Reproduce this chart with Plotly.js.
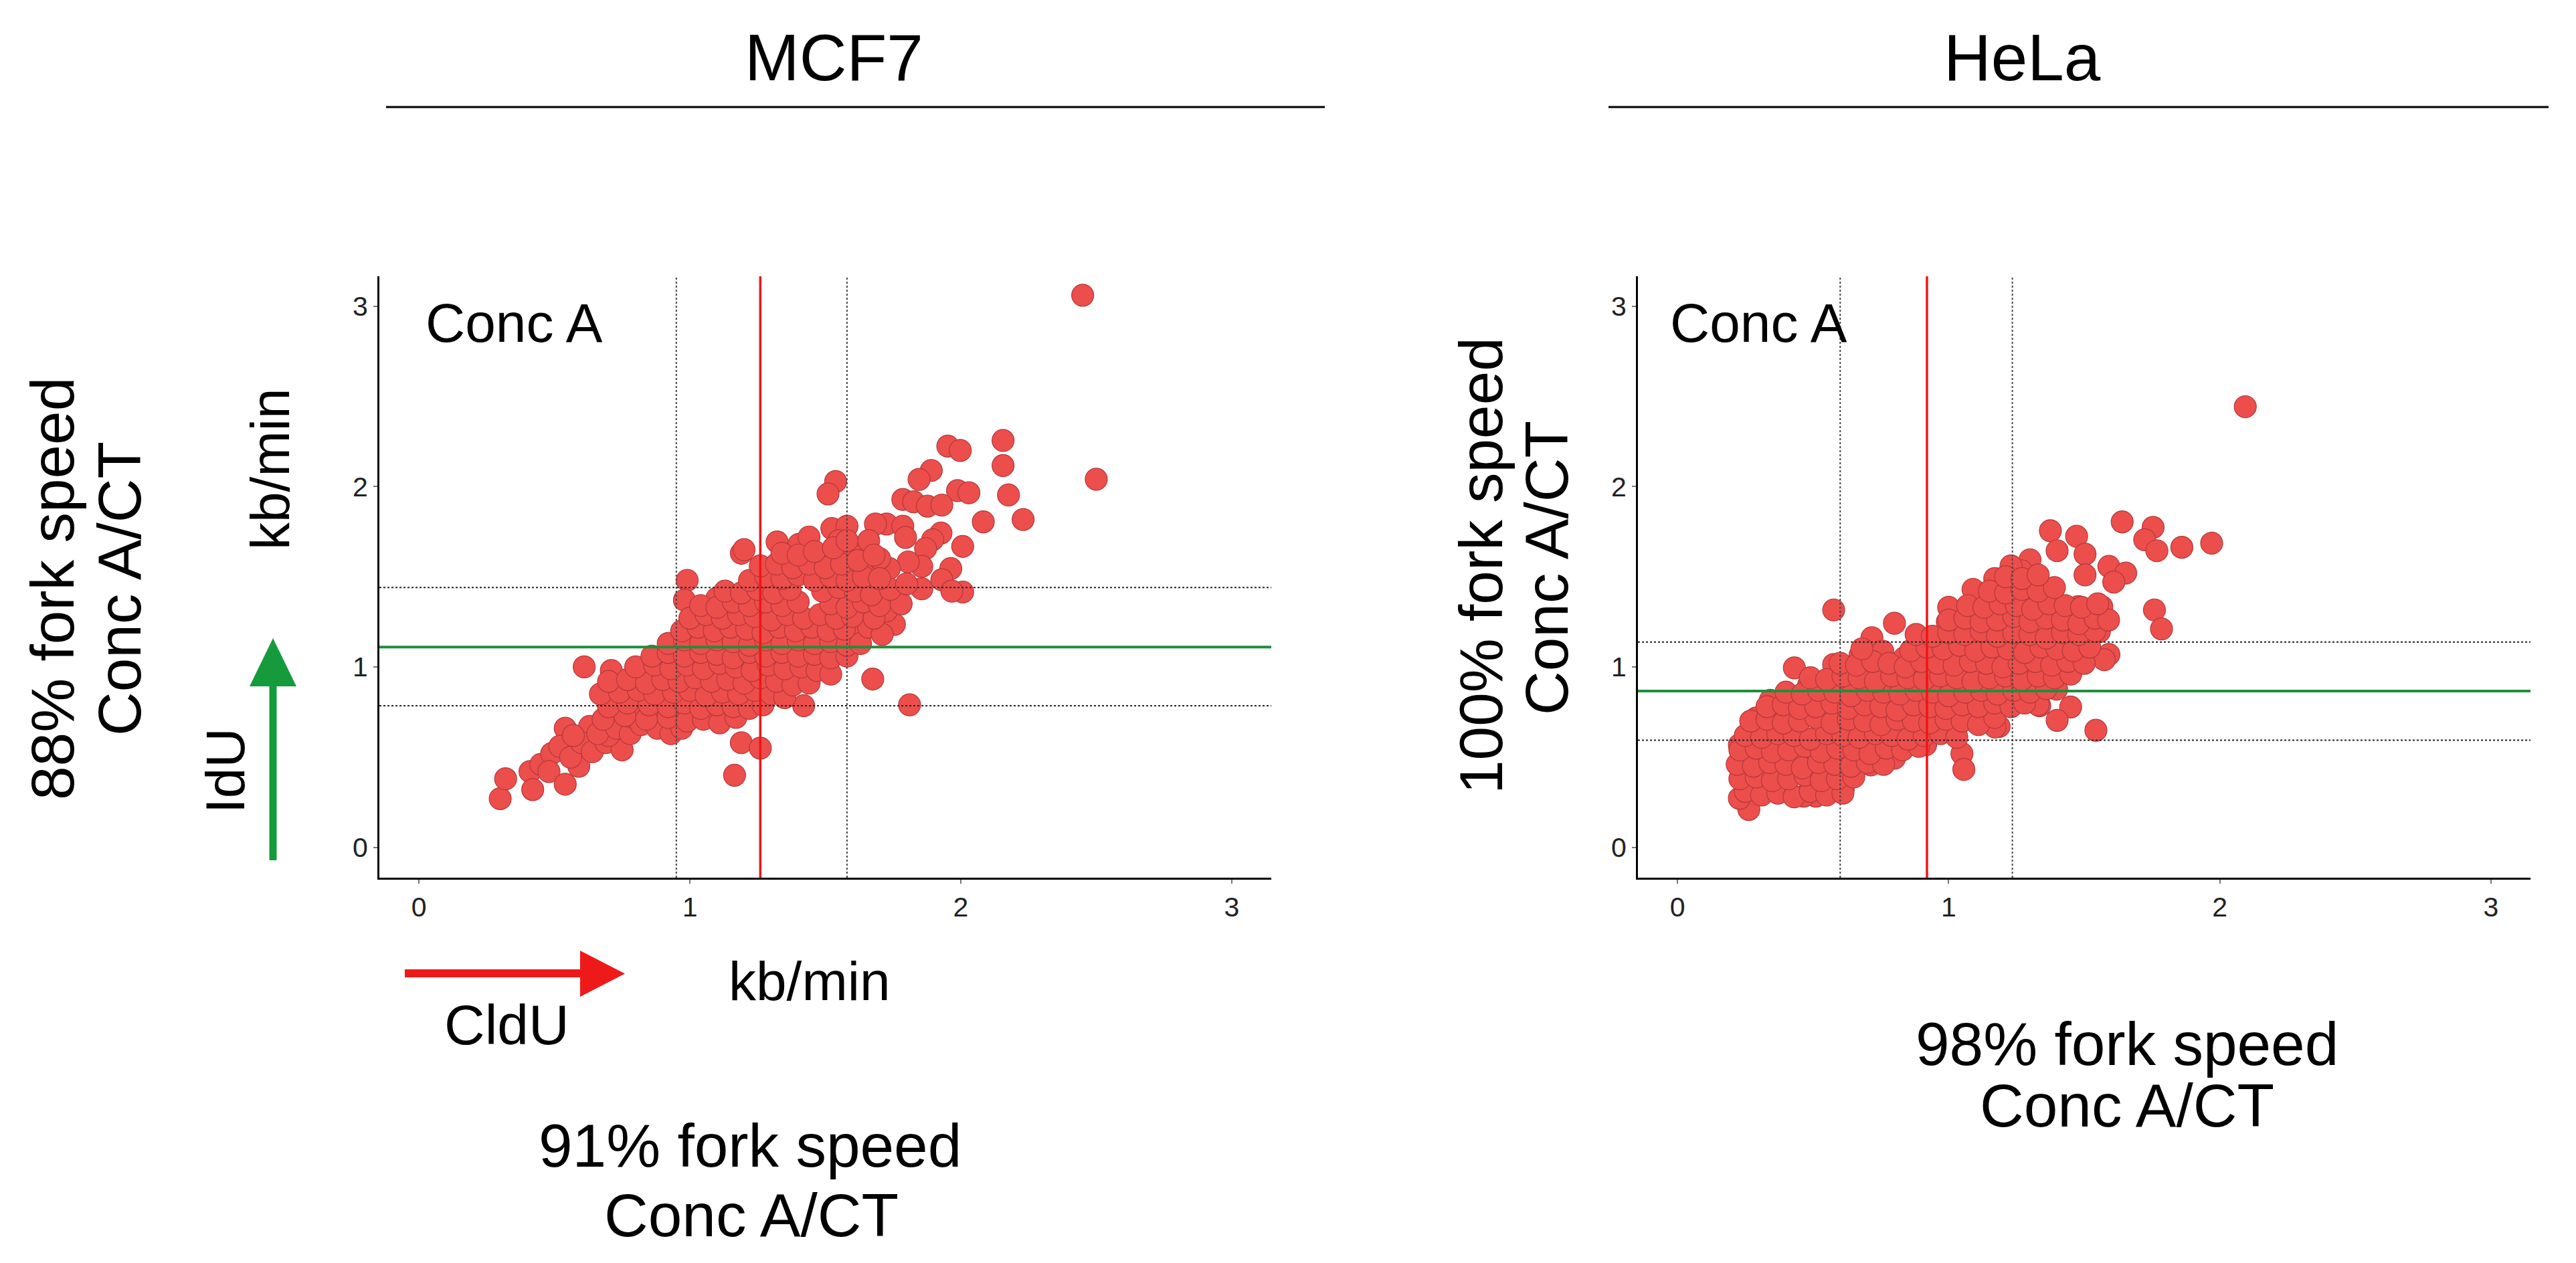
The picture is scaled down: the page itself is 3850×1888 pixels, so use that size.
<!DOCTYPE html>
<html>
<head>
<meta charset="utf-8">
<script src="https://cdn.plot.ly/plotly-3.0.1.min.js"></script>
<style>html,body{margin:0;padding:0;background:#fff;}#chart{width:3850px;height:1888px;}</style>
</head>
<body>
<div id="chart"></div>
<script>
// ---------------- DATA ----------------
const panelTitles = ['MCF7', 'HeLa'];
const tickValues = [0, 1, 2, 3];
const tickLabels = ['0', '1', '2', '3'];

// MCF7: CldU (x, kb/min) vs IdU (y, kb/min)
const mcf7X = [
  0.30,0.32,0.41,0.42,0.45,0.49,0.48,0.54,0.54,0.63,
  0.59,0.52,0.56,0.60,0.64,0.69,0.75,0.70,0.66,0.57,
  0.73,0.78,0.61,0.71,0.73,0.71,0.79,0.83,0.86,0.90,
  0.91,0.945,0.99,0.98,1.10,1.19,1.19,1.26,1.165,1.42,
  0.79,0.82,0.68,2.45,2.50,2.156,2.156,2.176,2.23,2.083,
  1.952,1.998,1.891,1.846,1.988,2.03,1.786,1.826,1.877,1.93,
  2.007,1.927,1.896,1.87,1.963,1.93,2.007,1.967,1.856,1.856,
  1.806,1.726,1.786,1.796,1.685,1.538,1.51,1.524,1.58,1.20,
  1.322,1.403,1.484,1.625,1.645,1.736,1.755,1.755,1.725,1.625,
  1.675,1.811,1.28,1.44,1.60,1.66,1.55,1.70,
  0.88,0.93,0.97,
  0.76,0.84,0.92,0.99,1.05,1.11,1.17,
  0.70,0.77,0.85,0.92,0.98,1.04,1.10,1.16,1.22,1.27,
  0.67,0.74,0.81,0.87,0.94,1.00,1.06,1.12,1.18,1.24,1.30,1.35,
  0.70,0.77,0.84,0.90,0.96,1.02,1.08,1.14,1.20,1.26,1.32,1.38,1.44,
  0.80,0.87,0.93,0.99,1.05,1.11,1.17,1.23,1.29,1.35,1.41,1.47,1.52,
  0.86,0.92,0.98,1.04,1.10,1.16,1.22,1.28,1.34,1.40,1.46,1.52,1.58,
  0.92,0.98,1.04,1.10,1.16,1.22,1.28,1.34,1.40,1.46,1.52,1.58,1.63,
  0.97,1.03,1.09,1.15,1.21,1.27,1.33,1.39,1.45,1.51,1.57,1.66,1.71,
  1.00,1.06,1.12,1.18,1.24,1.30,1.36,1.42,1.48,1.54,1.60,1.68,
  1.04,1.10,1.16,1.22,1.28,1.34,1.40,1.52,1.58,1.64,1.70,1.78,
  1.13,1.19,1.25,1.31,1.37,1.49,1.55,1.61,1.67,1.74,1.80,
  1.22,1.28,1.34,1.40,1.46,1.52,1.58,1.64,1.70,
  1.26,1.32,1.38,1.44,1.50,1.56,1.62,1.68,
  1.34,1.40,1.46,1.53,1.58
];
const mcf7Y = [
  0.27,0.38,0.42,0.32,0.46,0.52,0.42,0.35,0.66,0.67,
  0.45,0.56,0.50,0.58,0.53,0.58,0.54,0.62,0.63,0.62,
  0.66,0.63,1.00,0.98,0.87,0.80,0.80,0.96,0.74,0.67,
  0.94,0.655,1.48,1.37,1.38,1.63,0.58,0.55,0.40,0.785,
  0.72,0.68,0.71,3.06,2.04,2.255,2.116,1.953,1.817,1.804,
  2.224,2.20,2.089,2.039,1.977,1.965,1.928,1.915,1.891,1.897,
  1.668,1.742,1.705,1.656,1.545,1.483,1.415,1.42,1.433,1.557,
  1.582,1.792,1.78,1.718,1.792,2.027,1.959,1.767,1.78,1.65,
  1.693,1.68,1.607,1.656,1.557,1.545,1.384,1.236,1.31,1.223,
  0.933,0.79,1.46,1.72,1.62,1.70,1.70,1.60,
  0.66,0.63,0.66,
  0.73,0.71,0.72,0.70,0.71,0.69,0.72,
  0.78,0.80,0.79,0.78,0.80,0.77,0.79,0.78,0.77,0.79,
  0.85,0.86,0.87,0.85,0.86,0.87,0.84,0.86,0.85,0.87,0.85,0.83,
  0.92,0.93,0.91,0.93,0.92,0.94,0.92,0.93,0.91,0.94,0.92,0.90,0.91,
  1.00,1.01,0.99,1.01,0.99,1.02,1.00,0.98,1.01,0.99,1.00,0.98,0.96,
  1.06,1.08,1.06,1.08,1.07,1.05,1.08,1.06,1.08,1.06,1.07,1.05,1.06,
  1.13,1.15,1.13,1.15,1.14,1.12,1.15,1.13,1.15,1.13,1.14,1.12,1.13,
  1.20,1.22,1.20,1.22,1.21,1.19,1.22,1.20,1.22,1.20,1.21,1.22,1.18,
  1.27,1.29,1.27,1.29,1.28,1.26,1.29,1.27,1.29,1.27,1.28,1.27,
  1.34,1.33,1.36,1.34,1.36,1.34,1.36,1.35,1.33,1.36,1.34,1.35,
  1.42,1.41,1.43,1.41,1.43,1.42,1.44,1.42,1.40,1.43,1.46,
  1.48,1.50,1.49,1.51,1.48,1.50,1.48,1.50,1.49,
  1.56,1.57,1.55,1.57,1.55,1.57,1.59,1.62,
  1.63,1.62,1.64,1.66,1.70
];

// HeLa
const helaX = [
  2.094,1.64,1.754,1.723,1.768,1.86,1.97,1.375,1.40,1.472,
  1.503,1.30,1.269,1.591,1.653,1.609,1.503,1.565,1.759,1.785,
  1.556,1.591,1.574,1.45,1.40,1.543,1.336,1.398,1.186,1.38,
  1.478,1.30,0.576,0.80,0.431,0.576,0.717,0.673,0.757,0.836,
  0.906,0.995,1.083,1.163,1.277,1.049,1.056,0.915,0.80,0.713,
  0.611,0.51,0.466,0.395,0.263,0.228,0.245,0.28,0.228,0.29,
  0.342,0.484,0.342,0.45,1.23,1.17,1.09,1.00,1.171,1.33,
  0.25,0.31,0.37,0.43,0.49,0.55,0.61,
  0.23,0.29,0.35,0.41,0.47,0.53,0.59,0.65,
  0.22,0.28,0.34,0.40,0.46,0.52,0.58,0.64,0.70,0.76,
  0.23,0.29,0.35,0.41,0.47,0.53,0.59,0.65,0.71,0.77,0.83,0.89,
  0.25,0.31,0.37,0.43,0.49,0.55,0.61,0.67,0.73,0.79,0.85,0.91,0.97,1.03,
  0.27,0.33,0.39,0.45,0.51,0.57,0.63,0.69,0.75,0.81,0.87,0.93,0.99,1.05,1.11,1.17,
  0.33,0.39,0.45,0.51,0.57,0.63,0.69,0.75,0.81,0.87,0.93,0.99,1.05,1.11,1.17,1.23,1.28,
  0.40,0.46,0.52,0.58,0.64,0.70,0.76,0.82,0.88,0.94,1.00,1.06,1.12,1.18,1.24,1.30,1.36,
  0.49,0.55,0.61,0.67,0.73,0.79,0.85,0.91,0.97,1.03,1.09,1.15,1.21,1.27,1.33,1.39,1.45,
  0.60,0.66,0.72,0.78,0.84,0.90,0.96,1.02,1.08,1.14,1.20,1.26,1.32,1.38,1.44,1.50,
  0.68,0.86,0.92,0.98,1.04,1.10,1.16,1.22,1.28,1.34,1.40,1.46,1.52,
  0.88,0.94,1.00,1.06,1.12,1.18,1.24,1.30,1.36,1.42,1.48,1.54,
  1.00,1.06,1.12,1.18,1.24,1.30,1.36,1.42,1.48,1.54,1.59,
  1.07,1.13,1.19,1.25,1.31,1.37,1.43,1.49,1.55,
  1.15,1.21,1.27,1.33,1.39,
  1.21,1.27,1.33
];
const helaY = [
  2.442,1.804,1.773,1.705,1.644,1.663,1.686,1.755,1.644,1.724,
  1.625,1.594,1.532,1.557,1.52,1.47,1.51,1.334,1.316,1.211,
  1.196,1.069,1.04,0.778,0.704,0.649,0.785,0.877,0.67,1.384,
  1.334,1.43,1.316,1.242,0.995,1.013,1.162,1.063,1.087,1.05,
  1.137,1.25,1.31,1.38,1.36,0.519,0.432,0.568,0.494,0.457,
  0.321,0.284,0.284,0.321,0.21,0.272,0.36,0.42,0.568,0.717,
  0.815,0.902,0.494,0.457,1.56,1.49,1.43,1.33,0.667,0.79,
  0.31,0.29,0.30,0.28,0.31,0.29,0.30,
  0.38,0.39,0.37,0.38,0.40,0.37,0.38,0.39,
  0.46,0.45,0.47,0.46,0.44,0.47,0.46,0.45,0.47,0.46,
  0.54,0.55,0.53,0.54,0.56,0.53,0.55,0.54,0.52,0.55,0.54,0.56,
  0.62,0.61,0.63,0.62,0.60,0.63,0.62,0.61,0.63,0.62,0.60,0.62,0.63,0.61,
  0.70,0.71,0.69,0.70,0.72,0.69,0.71,0.70,0.68,0.71,0.70,0.69,0.71,0.70,0.68,0.72,
  0.78,0.79,0.77,0.78,0.80,0.77,0.79,0.78,0.76,0.79,0.78,0.77,0.79,0.78,0.80,0.78,0.80,
  0.86,0.85,0.87,0.86,0.84,0.87,0.86,0.85,0.87,0.86,0.84,0.86,0.87,0.85,0.87,0.86,0.88,
  0.94,0.93,0.95,0.94,0.92,0.95,0.94,0.93,0.95,0.94,0.92,0.94,0.95,0.93,0.95,0.94,0.96,
  1.02,1.01,1.03,1.02,1.00,1.03,1.02,1.01,1.03,1.02,1.00,1.02,1.03,1.01,1.03,1.02,
  1.10,1.09,1.11,1.10,1.12,1.09,1.11,1.10,1.08,1.11,1.10,1.09,1.11,
  1.18,1.17,1.19,1.18,1.20,1.17,1.19,1.18,1.16,1.19,1.18,1.20,
  1.26,1.27,1.25,1.26,1.28,1.25,1.27,1.26,1.24,1.27,1.26,
  1.34,1.33,1.35,1.34,1.32,1.35,1.34,1.33,1.35,
  1.42,1.41,1.43,1.42,1.44,
  1.50,1.49,1.51
];

// Mean (solid) and mean ± SD (dotted) reference values, kb/min
const mcf7CldUMean = 1.26;  const mcf7CldUSd = [0.95, 1.58];
const mcf7IdUMean  = 1.11;  const mcf7IdUSd  = [0.785, 1.44];
const helaCldUMean = 0.92;  const helaCldUSd = [0.60, 1.235];
const helaIdUMean  = 0.866; const helaIdUSd  = [0.594, 1.138];

// ---------------- LAYOUT HELPERS ----------------
const W = 3850, H = 1888;
const px = X => X / W;
const py = Y => 1 - Y / H;
const FONT = 'Liberation Sans, Arial, Helvetica, sans-serif';

const marker = {size: 33, color: '#EC4E4C', line: {color: '#B5383A', width: 1.2}};

const traces = [
  {type: 'scatter', mode: 'markers', x: mcf7X, y: mcf7Y, xaxis: 'x', yaxis: 'y', marker: marker, hoverinfo: 'x+y'},
  {type: 'scatter', mode: 'markers', x: helaX, y: helaY, xaxis: 'x2', yaxis: 'y2', marker: marker, hoverinfo: 'x+y'}
];

function axisBase(extra) {
  return Object.assign({
    tickvals: tickValues, ticktext: tickLabels,
    showline: true, linecolor: '#000', linewidth: 3,
    ticks: 'outside', ticklen: 6, tickwidth: 2, tickcolor: '#777',
    showgrid: false, zeroline: false,
    tickfont: {family: FONT, size: 41, color: '#222'},
    fixedrange: true
  }, extra);
}

const yDomain = [1 - 1312 / H, 1 - 413 / H];

function refShapes(xa, ya, xm, xsd, ym, ysd) {
  const s = [];
  xsd.forEach(v => s.push({type: 'line', xref: xa, yref: ya + ' domain', x0: v, x1: v, y0: 0, y1: 1,
    line: {color: '#444', width: 2, dash: 'dot'}}));
  ysd.forEach(v => s.push({type: 'line', xref: xa + ' domain', yref: ya, x0: 0, x1: 1, y0: v, y1: v,
    line: {color: '#222', width: 2, dash: 'dot'}}));
  s.push({type: 'line', xref: xa + ' domain', yref: ya, x0: 0, x1: 1, y0: ym, y1: ym,
    line: {color: '#1F8E3D', width: 4}});
  s.push({type: 'line', xref: xa, yref: ya + ' domain', x0: xm, x1: xm, y0: 0, y1: 1,
    line: {color: '#F01515', width: 3.5}});
  return s;
}

const shapes = []
  .concat(refShapes('x', 'y', mcf7CldUMean, mcf7CldUSd, mcf7IdUMean, mcf7IdUSd))
  .concat(refShapes('x2', 'y2', helaCldUMean, helaCldUSd, helaIdUMean, helaIdUSd))
  .concat([
    // title rules
    {type: 'line', xref: 'paper', yref: 'paper', x0: px(577), x1: px(1980), y0: py(160), y1: py(160), line: {color: '#000', width: 3}},
    {type: 'line', xref: 'paper', yref: 'paper', x0: px(2404), x1: px(3809), y0: py(160), y1: py(160), line: {color: '#000', width: 3}},
    // red CldU arrow
    {type: 'line', xref: 'paper', yref: 'paper', x0: px(605), x1: px(872), y0: py(1455), y1: py(1455), line: {color: '#EE1A1A', width: 12}},
    {type: 'path', xref: 'paper', yref: 'paper', fillcolor: '#EE1A1A', line: {width: 0},
      path: `M ${px(867)},${py(1421)} L ${px(867)},${py(1490)} L ${px(934)},${py(1455.5)} Z`},
    // green IdU arrow
    {type: 'line', xref: 'paper', yref: 'paper', x0: px(408), x1: px(408), y0: py(1286), y1: py(1020), line: {color: '#169B3C', width: 11}},
    {type: 'path', xref: 'paper', yref: 'paper', fillcolor: '#169B3C', line: {width: 0},
      path: `M ${px(373)},${py(1026)} L ${px(443)},${py(1026)} L ${px(408)},${py(954)} Z`}
  ]);

function txt(text, X, Y, size, opts) {
  return Object.assign({text: text, xref: 'paper', yref: 'paper', x: px(X), y: py(Y),
    xanchor: 'center', yanchor: 'middle', showarrow: false,
    font: {family: FONT, size: size, color: '#000'}}, opts || {});
}

const annotations = [
  txt(panelTitles[0], 1246, 86, 98),
  txt(panelTitles[1], 3022, 86, 98),
  txt('Conc A', 634, 482, 82, {xanchor: 'left'}),
  txt('Conc A', 2494, 482, 82, {xanchor: 'left'}),
  // MCF7 labels
  txt('88% fork speed', 78, 880, 91, {textangle: -90}),
  txt('Conc A/CT', 178, 880, 91, {textangle: -90}),
  txt('kb/min', 403, 701, 82, {textangle: -90}),
  txt('IdU', 336, 1152, 82, {textangle: -90}),
  txt('CldU', 757, 1532, 84),
  txt('kb/min', 1210, 1466, 82),
  txt('91% fork speed', 1121, 1712, 91),
  txt('Conc A/CT', 1123, 1816, 91),
  // HeLa labels
  txt('100% fork speed', 2213, 846, 91, {textangle: -90}),
  txt('Conc A/CT', 2312, 849, 91, {textangle: -90}),
  txt('98% fork speed', 3179, 1560, 91),
  txt('Conc A/CT', 3179, 1652, 91)
];

const layout = {
  width: W, height: H,
  margin: {l: 0, r: 0, t: 0, b: 0, pad: 0},
  paper_bgcolor: '#fff', plot_bgcolor: '#fff',
  showlegend: false,
  font: {family: FONT, color: '#000'},
  xaxis: axisBase({domain: [567 / W, 1900 / W], range: [-0.146, 3.146], anchor: 'y'}),
  yaxis: axisBase({domain: yDomain, range: [-0.168, 3.165], anchor: 'x'}),
  xaxis2: axisBase({domain: [2448 / W, 3782 / W], range: [-0.146, 3.146], anchor: 'y2'}),
  yaxis2: axisBase({domain: yDomain, range: [-0.168, 3.165], anchor: 'x2'}),
  shapes: shapes,
  annotations: annotations
};

Plotly.newPlot('chart', traces, layout, {displayModeBar: false, staticPlot: true});
</script>
</body>
</html>
